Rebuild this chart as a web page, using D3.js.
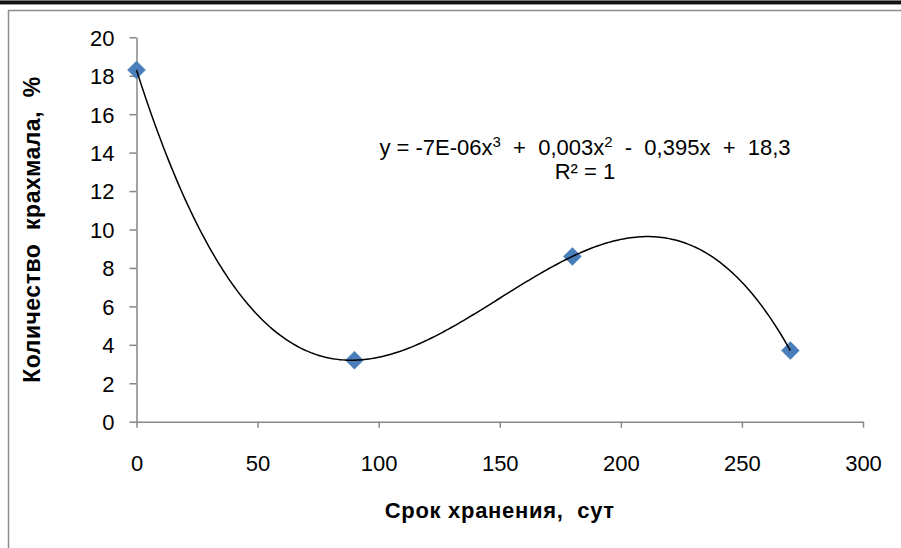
<!DOCTYPE html>
<html>
<head>
<meta charset="utf-8">
<script src="https://cdn.jsdelivr.net/npm/d3@7"></script>
<style>
  body { margin: 0; background: #fff; }
  svg { display: block; font-family: "Liberation Sans", Arial, sans-serif; }
  text { white-space: pre; }
</style>
</head>
<body>
<svg id="chart" width="901" height="548"></svg>
<script>
// storage time, days
var days = [0, 90, 180, 270];
// starch content, %
var starch = [18.3, 3.2, 8.6, 3.7];
var xTicks = [0, 50, 100, 150, 200, 250, 300];
var yTicks = [0, 2, 4, 6, 8, 10, 12, 14, 16, 18, 20];

var svg = d3.select("#chart");

// page edge decoration (top band + frame of the chart object)
svg.append("rect").attr("x", 0).attr("y", 0).attr("width", 901).attr("height", 4).attr("fill", "#111");
svg.append("line").attr("x1", 0).attr("x2", 901).attr("y1", 0.5).attr("y2", 0.5).attr("stroke", "#777");
svg.append("line").attr("x1", 0).attr("x2", 901).attr("y1", 4.5).attr("y2", 4.5).attr("stroke", "#999");
svg.append("path")
    .attr("d", "M8.5,548V10.5H901")
    .attr("fill", "none")
    .attr("stroke", "#8c8c8c")
    .attr("stroke-width", 1.5);

var x = d3.scaleLinear().domain([0, 300]).range([136.5, 863]);
var y = d3.scaleLinear().domain([0, 20]).range([421.7, 37.3]);

var axisColor = "#868686";

// x axis
var gx = svg.append("g")
    .attr("transform", "translate(0," + y(0) + ")")
    .call(d3.axisBottom(x).tickValues(xTicks).tickSize(6).tickSizeOuter(0).tickPadding(28));
// y axis
var gy = svg.append("g")
    .attr("transform", "translate(" + x(0) + ",0)")
    .call(d3.axisLeft(y).tickValues(yTicks).tickSize(7).tickSizeOuter(0).tickPadding(15));

[gx, gy].forEach(function (g) {
    g.select(".domain").attr("stroke", axisColor).attr("stroke-width", 1.5);
    g.selectAll(".tick line").attr("stroke", axisColor).attr("stroke-width", 1.5);
    g.selectAll(".tick text")
        .attr("fill", "#000")
        .style("font-size", "22px")
        .style("font-family", "'Liberation Sans', Arial, sans-serif");
});
gy.selectAll(".tick text").attr("dy", "0.36em");

// markers
svg.append("g")
    .selectAll("path")
    .data(days).enter().append("path")
    .attr("d", "M0,-9L9,0L0,9L-9,0Z")
    .attr("transform", function (d, i) { return "translate(" + x(d) + "," + y(starch[i]) + ")"; })
    .attr("fill", "#4a7ebb")
    .attr("stroke", "#4f81bd")
    .attr("stroke-width", 0.5);

// polynomial trendline (order 3) through the points - Lagrange form
function poly(t) {
    var s = 0;
    for (var i = 0; i < days.length; i++) {
        var p = starch[i];
        for (var j = 0; j < days.length; j++) {
            if (j !== i) p *= (t - days[j]) / (days[i] - days[j]);
        }
        s += p;
    }
    return s;
}
var trend = d3.range(0, 270.01, 1);
svg.append("path")
    .datum(trend)
    .attr("d", d3.line().x(function (d) { return x(d); }).y(function (d) { return y(poly(d)); }))
    .attr("fill", "none")
    .attr("stroke", "#000")
    .attr("stroke-width", 1.5);

// equation label
var eq = svg.append("text")
    .attr("x", 585).attr("y", 155)
    .attr("text-anchor", "middle")
    .style("font-size", "22px");
eq.append("tspan").text("y = -7E-06x");
eq.append("tspan").attr("dy", -8).style("font-size", "15px").text("3");
eq.append("tspan").attr("dy", 8).text("  +  0,003x");
eq.append("tspan").attr("dy", -8).style("font-size", "15px").text("2");
eq.append("tspan").attr("dy", 8).text("  -  0,395x  +  18,3");

svg.append("text")
    .attr("x", 585).attr("y", 179)
    .attr("text-anchor", "middle")
    .style("font-size", "22px")
    .text("R² = 1");

// axis titles
svg.append("text")
    .attr("x", x(150)).attr("y", 518)
    .attr("text-anchor", "middle")
    .style("font-size", "22px")
    .style("font-weight", "bold")
    .style("letter-spacing", "0.7px")
    .text("Срок хранения,  сут");

svg.append("text")
    .attr("transform", "translate(40," + ((y(0) + y(20)) / 2) + ") rotate(-90)")
    .attr("text-anchor", "middle")
    .style("font-size", "23px")
    .style("font-weight", "bold")
    .style("letter-spacing", "0.5px")
    .text("Количество  крахмала,  %");
</script>
</body>
</html>
